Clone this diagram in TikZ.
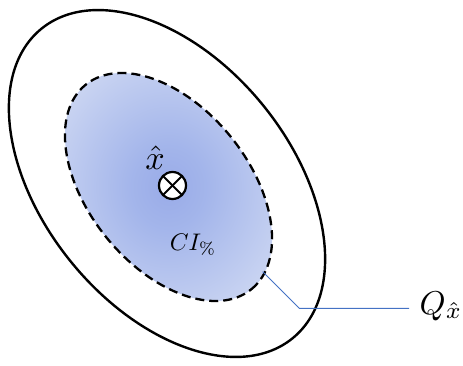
\documentclass[tikz,border=0pt]{standalone}
\usetikzlibrary{calc}
\definecolor{leader}{HTML}{4472C4}
\pgfdeclareradialshading{ciglow}{\pgfpoint{0bp}{0bp}}{rgb(0bp)=(0.60,0.67,0.91); rgb(8bp)=(0.64,0.71,0.92); rgb(28bp)=(0.80,0.84,0.95); rgb(50bp)=(0.86,0.89,0.97)}
\tikzset{
  outerell/.style={draw=black, line width=2.4pt},
  innerell/.style={draw=black, line width=2.3pt, dash pattern=on 9pt off 5pt, shading=ciglow},
  otimesnode/.style={circle, draw=black, line width=2.2pt, fill=white, minimum size=27pt, inner sep=0pt,
    path picture={\draw[line width=2pt] ([shift={(4pt,4pt)}]path picture bounding box.south west) -- ([shift={(-4pt,-4pt)}]path picture bounding box.north east);
                  \draw[line width=2pt] ([shift={(4pt,-4pt)}]path picture bounding box.north west) -- ([shift={(-4pt,4pt)}]path picture bounding box.south east);}},
  leaderline/.style={draw=leader, line width=1pt},
  lbl/.style={inner sep=0pt, transform shape}
}
\begin{document}
\begin{tikzpicture}[x=1pt,y=1pt]
\useasboundingbox (0,0) rectangle (463,365);
% outer ellipse
\begin{scope}[shift={(167,181.5)}, rotate=-51]
  \draw[outerell] (0,0) ellipse [x radius=199.3, y radius=123.9];
\end{scope}
% inner dashed ellipse
\begin{scope}[shift={(168.5,178)}, rotate=-51]
  \shadedraw[innerell] (0,0) ellipse [x radius=131.6, y radius=80];
\end{scope}
\node[otimesnode] (ot) at (172.5,179.5) {};
\node[lbl, scale=3.4, anchor=base] (xhat) at (155,195.5) {$\hat{x}$};
\node[lbl, scale=2.4] (ci) at (193,120) {$CI_{\%}$};
\node[lbl, scale=3.3, anchor=base west] (q) at (419,51) {$Q_{\hat{x}}$};
\coordinate (ls) at (262.7,93.3);
\coordinate (lb) at (299.3,56.7);
\coordinate (le) at (409,56.7);
\draw[leaderline] (ls) -- (lb) -- (le);
\end{tikzpicture}
\end{document}
